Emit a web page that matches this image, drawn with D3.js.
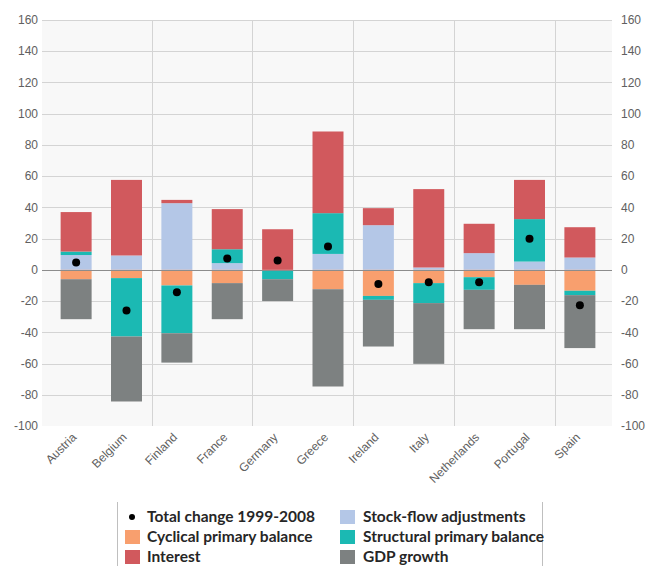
<!DOCTYPE html>
<html>
<head>
<meta charset="utf-8">
<script src="https://cdn.jsdelivr.net/npm/d3@7"></script>
<style>
  body { margin: 0; background: #fff; }
  .tick-label { font-family: "Liberation Sans", Arial, sans-serif; font-size: 12px; fill: #606060; }
  .legend-text { font-family: Lato, "Open Sans", sans-serif; font-size: 15.5px; font-weight: 700; fill: #262626; }
</style>
</head>
<body>
<svg id="chart" width="664" height="566"></svg>
<script>
// Contributions to change in debt ratio, 1999-2008
const countries = ["Austria", "Belgium", "Finland", "France", "Germany", "Greece",
  "Ireland", "Italy", "Netherlands", "Portugal", "Spain"];
const stockFlow  = [9.5, 9.2, 42.7, 4.3, 0, 10.2, 28.6, 1.5, 10.7, 5.3, 7.9];
const cyclical   = [-6, -5.3, -10, -8.5, -0.5, -12.4, -16.7, -8.5, -4.7, -9.6, -13.4];
const structural = [2.2, -37.4, -30.6, 8.9, -5.5, 26.1, -2.5, -12.8, -8.1, 27.2, -2.8];
const interest   = [25.3, 48.4, 2.1, 25.7, 26, 52.3, 10.9, 50.2, 18.8, 25.1, 19.4];
const gdpGrowth  = [-25.6, -41.6, -18.8, -23.1, -14, -62.3, -29.9, -38.9, -25.2, -28.4, -33.9];
const totalChange = [4.7, -26, -14.3, 7.2, 6, 14.9, -9, -7.9, -7.9, 19.9, -22.6];
const yTicks = [-100, -80, -60, -40, -20, 0, 20, 40, 60, 80, 100, 120, 140, 160];

const series = [
  { key: "stockFlow", name: "Stock-flow adjustments", values: stockFlow, color: "#b4c7e7" },
  { key: "cyclical", name: "Cyclical primary balance", values: cyclical, color: "#f89f6e" },
  { key: "structural", name: "Structural primary balance", values: structural, color: "#1bb9b3" },
  { key: "interest", name: "Interest", values: interest, color: "#d1595d" },
  { key: "gdp", name: "GDP growth", values: gdpGrowth, color: "#7d8181" }
];

const rows = countries.map((c, i) => {
  const r = { country: c, total: totalChange[i] };
  series.forEach(s => r[s.key] = s.values[i]);
  return r;
});

const svg = d3.select("#chart");
const plot = { left: 42, right: 612, top: 20, bottom: 426 };

const x = d3.scaleBand()
  .domain(countries)
  .range([plot.left + 1, plot.right + 1])
  .paddingInner(0.385)
  .paddingOuter(0.35);

const y = d3.scaleLinear()
  .domain([-100, 160])
  .range([plot.bottom, plot.top]);

// plot background
svg.append("rect")
  .attr("x", plot.left)
  .attr("y", plot.top)
  .attr("width", plot.right - plot.left)
  .attr("height", plot.bottom - plot.top)
  .attr("fill", "#f8f8f8");

// horizontal grid
svg.append("g")
  .selectAll("line")
  .data(yTicks.filter(d => d !== 0 && d !== -100))
  .enter().append("line")
  .attr("x1", plot.left)
  .attr("x2", plot.right)
  .attr("y1", d => Math.round(y(d)) + 0.5)
  .attr("y2", d => Math.round(y(d)) + 0.5)
  .attr("stroke", "#d4d4d4");

// vertical grid every second category
const step = x.step();
svg.append("g")
  .selectAll("line")
  .data(countries.filter((d, i) => i > 0 && i % 2 === 0))
  .enter().append("line")
  .attr("x1", d => Math.round(x(d) - step * x.paddingInner() / 2) + 0.5)
  .attr("x2", d => Math.round(x(d) - step * x.paddingInner() / 2) + 0.5)
  .attr("y1", plot.top)
  .attr("y2", plot.bottom)
  .attr("stroke", "#d4d4d4");

// stacked bars
const stack = d3.stack()
  .keys(series.map(s => s.key))
  .offset(d3.stackOffsetDiverging);

const layers = stack(rows);

svg.append("g")
  .selectAll("g")
  .data(layers)
  .enter().append("g")
  .attr("fill", (d, i) => series[i].color)
  .selectAll("rect")
  .data(d => d)
  .enter().append("rect")
  .attr("x", d => x(d.data.country))
  .attr("y", d => y(Math.max(d[0], d[1])))
  .attr("width", x.bandwidth())
  .attr("height", d => Math.abs(y(d[0]) - y(d[1])));

// zero line
svg.append("line")
  .attr("x1", plot.left)
  .attr("x2", plot.right)
  .attr("y1", Math.round(y(0)) + 0.5)
  .attr("y2", Math.round(y(0)) + 0.5)
  .attr("stroke", "#8c8c8c");

// total change dots
svg.append("g")
  .selectAll("circle")
  .data(rows)
  .enter().append("circle")
  .attr("cx", d => x(d.country) + x.bandwidth() / 2)
  .attr("cy", d => y(d.total))
  .attr("r", 4)
  .attr("fill", "#000");

// y axis labels, both sides
svg.append("g")
  .selectAll("text")
  .data(yTicks)
  .enter().append("text")
  .attr("class", "tick-label")
  .attr("x", 38)
  .attr("y", d => y(d))
  .attr("dy", "0.35em")
  .attr("text-anchor", "end")
  .text(d => d);

svg.append("g")
  .selectAll("text")
  .data(yTicks)
  .enter().append("text")
  .attr("class", "tick-label")
  .attr("x", 621)
  .attr("y", d => y(d))
  .attr("dy", "0.35em")
  .attr("text-anchor", "start")
  .text(d => d);

// x axis labels, rotated
svg.append("g")
  .selectAll("text")
  .data(countries)
  .enter().append("text")
  .attr("class", "tick-label")
  .attr("text-anchor", "end")
  .attr("transform", d => "translate(" + (x(d) + x.bandwidth() / 2 + 1) + ",438) rotate(-45)")
  .text(d => d);

// legend
const legend = svg.append("g");
legend.append("line")
  .attr("x1", 117.5).attr("x2", 117.5)
  .attr("y1", 502).attr("y2", 566)
  .attr("stroke", "#bfbfbf");
legend.append("line")
  .attr("x1", 542.5).attr("x2", 542.5)
  .attr("y1", 502).attr("y2", 566)
  .attr("stroke", "#bfbfbf");

const legendItems = [
  { name: "Total change 1999-2008", dot: true, col: 0, row: 0 },
  { name: series[1].name, color: series[1].color, col: 0, row: 1 },
  { name: series[3].name, color: series[3].color, col: 0, row: 2 },
  { name: series[0].name, color: series[0].color, col: 1, row: 0 },
  { name: series[2].name, color: series[2].color, col: 1, row: 1 },
  { name: series[4].name, color: series[4].color, col: 1, row: 2 }
];

const item = legend.selectAll(".item")
  .data(legendItems)
  .enter().append("g")
  .attr("class", "item")
  .attr("transform", d => "translate(" + (d.col ? 340 : 125) + "," + (517 + d.row * 20) + ")");

item.filter(d => d.dot).append("circle")
  .attr("cx", 7).attr("cy", 0).attr("r", 3).attr("fill", "#000");

item.filter(d => !d.dot).append("rect")
  .attr("x", 0).attr("y", -7).attr("width", 15).attr("height", 14)
  .attr("fill", d => d.color);

item.append("text")
  .attr("class", "legend-text")
  .attr("x", d => d.col ? 23 : 22)
  .attr("dy", "0.35em")
  .text(d => d.name);
</script>
</body>
</html>
